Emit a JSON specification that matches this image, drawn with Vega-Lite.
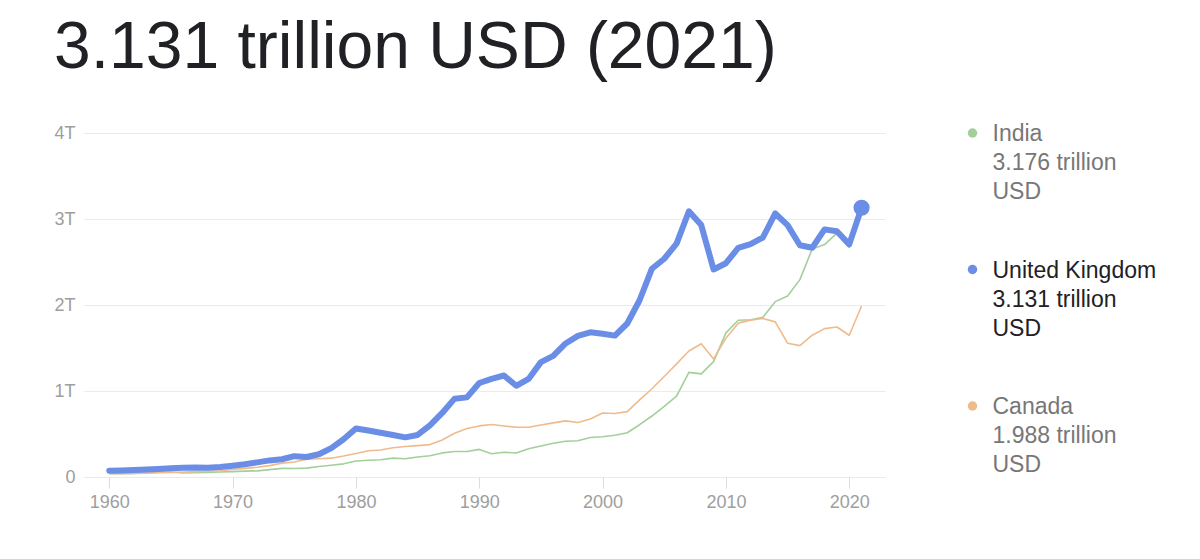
{
  "$schema": "https://vega.github.io/schema/vega-lite/v6.json",
  "padding": {"left": 53, "top": 15, "right": 5, "bottom": 5},
  "bounds": "flush",
  "spacing": 87,
  "title": {
    "text": "3.131 trillion USD (2021)",
    "anchor": "start",
    "frame": "bounds",
    "font": "Liberation Sans",
    "fontSize": 66,
    "fontWeight": "normal",
    "color": "#202124",
    "offset": 41
  },
  "config": {
    "view": {"stroke": null},
    "font": "Liberation Sans"
  },
  "datasets": {
    "gdp": [
      {"country": "United Kingdom", "year": 1960, "gdp": 0.073},
      {"country": "United Kingdom", "year": 1961, "gdp": 0.077},
      {"country": "United Kingdom", "year": 1962, "gdp": 0.081},
      {"country": "United Kingdom", "year": 1963, "gdp": 0.087},
      {"country": "United Kingdom", "year": 1964, "gdp": 0.094},
      {"country": "United Kingdom", "year": 1965, "gdp": 0.102},
      {"country": "United Kingdom", "year": 1966, "gdp": 0.108},
      {"country": "United Kingdom", "year": 1967, "gdp": 0.111},
      {"country": "United Kingdom", "year": 1968, "gdp": 0.107},
      {"country": "United Kingdom", "year": 1969, "gdp": 0.117},
      {"country": "United Kingdom", "year": 1970, "gdp": 0.131},
      {"country": "United Kingdom", "year": 1971, "gdp": 0.148},
      {"country": "United Kingdom", "year": 1972, "gdp": 0.170},
      {"country": "United Kingdom", "year": 1973, "gdp": 0.193},
      {"country": "United Kingdom", "year": 1974, "gdp": 0.206},
      {"country": "United Kingdom", "year": 1975, "gdp": 0.242},
      {"country": "United Kingdom", "year": 1976, "gdp": 0.232},
      {"country": "United Kingdom", "year": 1977, "gdp": 0.264},
      {"country": "United Kingdom", "year": 1978, "gdp": 0.336},
      {"country": "United Kingdom", "year": 1979, "gdp": 0.439},
      {"country": "United Kingdom", "year": 1980, "gdp": 0.564},
      {"country": "United Kingdom", "year": 1981, "gdp": 0.540},
      {"country": "United Kingdom", "year": 1982, "gdp": 0.515},
      {"country": "United Kingdom", "year": 1983, "gdp": 0.489},
      {"country": "United Kingdom", "year": 1984, "gdp": 0.461},
      {"country": "United Kingdom", "year": 1985, "gdp": 0.489},
      {"country": "United Kingdom", "year": 1986, "gdp": 0.601},
      {"country": "United Kingdom", "year": 1987, "gdp": 0.745},
      {"country": "United Kingdom", "year": 1988, "gdp": 0.911},
      {"country": "United Kingdom", "year": 1989, "gdp": 0.926},
      {"country": "United Kingdom", "year": 1990, "gdp": 1.093},
      {"country": "United Kingdom", "year": 1991, "gdp": 1.142},
      {"country": "United Kingdom", "year": 1992, "gdp": 1.180},
      {"country": "United Kingdom", "year": 1993, "gdp": 1.061},
      {"country": "United Kingdom", "year": 1994, "gdp": 1.140},
      {"country": "United Kingdom", "year": 1995, "gdp": 1.336},
      {"country": "United Kingdom", "year": 1996, "gdp": 1.409},
      {"country": "United Kingdom", "year": 1997, "gdp": 1.553},
      {"country": "United Kingdom", "year": 1998, "gdp": 1.641},
      {"country": "United Kingdom", "year": 1999, "gdp": 1.683},
      {"country": "United Kingdom", "year": 2000, "gdp": 1.666},
      {"country": "United Kingdom", "year": 2001, "gdp": 1.644},
      {"country": "United Kingdom", "year": 2002, "gdp": 1.785},
      {"country": "United Kingdom", "year": 2003, "gdp": 2.055},
      {"country": "United Kingdom", "year": 2004, "gdp": 2.422},
      {"country": "United Kingdom", "year": 2005, "gdp": 2.538},
      {"country": "United Kingdom", "year": 2006, "gdp": 2.713},
      {"country": "United Kingdom", "year": 2007, "gdp": 3.090},
      {"country": "United Kingdom", "year": 2008, "gdp": 2.929},
      {"country": "United Kingdom", "year": 2009, "gdp": 2.413},
      {"country": "United Kingdom", "year": 2010, "gdp": 2.486},
      {"country": "United Kingdom", "year": 2011, "gdp": 2.664},
      {"country": "United Kingdom", "year": 2012, "gdp": 2.708},
      {"country": "United Kingdom", "year": 2013, "gdp": 2.785},
      {"country": "United Kingdom", "year": 2014, "gdp": 3.064},
      {"country": "United Kingdom", "year": 2015, "gdp": 2.928},
      {"country": "United Kingdom", "year": 2016, "gdp": 2.695},
      {"country": "United Kingdom", "year": 2017, "gdp": 2.666},
      {"country": "United Kingdom", "year": 2018, "gdp": 2.879},
      {"country": "United Kingdom", "year": 2019, "gdp": 2.858},
      {"country": "United Kingdom", "year": 2020, "gdp": 2.705},
      {"country": "United Kingdom", "year": 2021, "gdp": 3.131},
      {"country": "India", "year": 1960, "gdp": 0.037},
      {"country": "India", "year": 1961, "gdp": 0.039},
      {"country": "India", "year": 1962, "gdp": 0.042},
      {"country": "India", "year": 1963, "gdp": 0.048},
      {"country": "India", "year": 1964, "gdp": 0.056},
      {"country": "India", "year": 1965, "gdp": 0.059},
      {"country": "India", "year": 1966, "gdp": 0.046},
      {"country": "India", "year": 1967, "gdp": 0.050},
      {"country": "India", "year": 1968, "gdp": 0.053},
      {"country": "India", "year": 1969, "gdp": 0.058},
      {"country": "India", "year": 1970, "gdp": 0.062},
      {"country": "India", "year": 1971, "gdp": 0.068},
      {"country": "India", "year": 1972, "gdp": 0.071},
      {"country": "India", "year": 1973, "gdp": 0.086},
      {"country": "India", "year": 1974, "gdp": 0.100},
      {"country": "India", "year": 1975, "gdp": 0.099},
      {"country": "India", "year": 1976, "gdp": 0.103},
      {"country": "India", "year": 1977, "gdp": 0.122},
      {"country": "India", "year": 1978, "gdp": 0.137},
      {"country": "India", "year": 1979, "gdp": 0.153},
      {"country": "India", "year": 1980, "gdp": 0.186},
      {"country": "India", "year": 1981, "gdp": 0.194},
      {"country": "India", "year": 1982, "gdp": 0.201},
      {"country": "India", "year": 1983, "gdp": 0.219},
      {"country": "India", "year": 1984, "gdp": 0.212},
      {"country": "India", "year": 1985, "gdp": 0.233},
      {"country": "India", "year": 1986, "gdp": 0.248},
      {"country": "India", "year": 1987, "gdp": 0.280},
      {"country": "India", "year": 1988, "gdp": 0.296},
      {"country": "India", "year": 1989, "gdp": 0.296},
      {"country": "India", "year": 1990, "gdp": 0.321},
      {"country": "India", "year": 1991, "gdp": 0.271},
      {"country": "India", "year": 1992, "gdp": 0.288},
      {"country": "India", "year": 1993, "gdp": 0.279},
      {"country": "India", "year": 1994, "gdp": 0.328},
      {"country": "India", "year": 1995, "gdp": 0.360},
      {"country": "India", "year": 1996, "gdp": 0.393},
      {"country": "India", "year": 1997, "gdp": 0.416},
      {"country": "India", "year": 1998, "gdp": 0.421},
      {"country": "India", "year": 1999, "gdp": 0.459},
      {"country": "India", "year": 2000, "gdp": 0.468},
      {"country": "India", "year": 2001, "gdp": 0.485},
      {"country": "India", "year": 2002, "gdp": 0.515},
      {"country": "India", "year": 2003, "gdp": 0.608},
      {"country": "India", "year": 2004, "gdp": 0.709},
      {"country": "India", "year": 2005, "gdp": 0.820},
      {"country": "India", "year": 2006, "gdp": 0.940},
      {"country": "India", "year": 2007, "gdp": 1.217},
      {"country": "India", "year": 2008, "gdp": 1.199},
      {"country": "India", "year": 2009, "gdp": 1.342},
      {"country": "India", "year": 2010, "gdp": 1.676},
      {"country": "India", "year": 2011, "gdp": 1.823},
      {"country": "India", "year": 2012, "gdp": 1.828},
      {"country": "India", "year": 2013, "gdp": 1.857},
      {"country": "India", "year": 2014, "gdp": 2.039},
      {"country": "India", "year": 2015, "gdp": 2.104},
      {"country": "India", "year": 2016, "gdp": 2.295},
      {"country": "India", "year": 2017, "gdp": 2.652},
      {"country": "India", "year": 2018, "gdp": 2.703},
      {"country": "India", "year": 2019, "gdp": 2.836},
      {"country": "India", "year": 2020, "gdp": 2.672},
      {"country": "India", "year": 2021, "gdp": 3.176},
      {"country": "Canada", "year": 1960, "gdp": 0.041},
      {"country": "Canada", "year": 1961, "gdp": 0.041},
      {"country": "Canada", "year": 1962, "gdp": 0.042},
      {"country": "Canada", "year": 1963, "gdp": 0.045},
      {"country": "Canada", "year": 1964, "gdp": 0.049},
      {"country": "Canada", "year": 1965, "gdp": 0.053},
      {"country": "Canada", "year": 1966, "gdp": 0.058},
      {"country": "Canada", "year": 1967, "gdp": 0.062},
      {"country": "Canada", "year": 1968, "gdp": 0.066},
      {"country": "Canada", "year": 1969, "gdp": 0.073},
      {"country": "Canada", "year": 1970, "gdp": 0.088},
      {"country": "Canada", "year": 1971, "gdp": 0.100},
      {"country": "Canada", "year": 1972, "gdp": 0.113},
      {"country": "Canada", "year": 1973, "gdp": 0.132},
      {"country": "Canada", "year": 1974, "gdp": 0.161},
      {"country": "Canada", "year": 1975, "gdp": 0.174},
      {"country": "Canada", "year": 1976, "gdp": 0.207},
      {"country": "Canada", "year": 1977, "gdp": 0.212},
      {"country": "Canada", "year": 1978, "gdp": 0.219},
      {"country": "Canada", "year": 1979, "gdp": 0.244},
      {"country": "Canada", "year": 1980, "gdp": 0.274},
      {"country": "Canada", "year": 1981, "gdp": 0.306},
      {"country": "Canada", "year": 1982, "gdp": 0.314},
      {"country": "Canada", "year": 1983, "gdp": 0.340},
      {"country": "Canada", "year": 1984, "gdp": 0.355},
      {"country": "Canada", "year": 1985, "gdp": 0.365},
      {"country": "Canada", "year": 1986, "gdp": 0.377},
      {"country": "Canada", "year": 1987, "gdp": 0.431},
      {"country": "Canada", "year": 1988, "gdp": 0.508},
      {"country": "Canada", "year": 1989, "gdp": 0.565},
      {"country": "Canada", "year": 1990, "gdp": 0.594},
      {"country": "Canada", "year": 1991, "gdp": 0.611},
      {"country": "Canada", "year": 1992, "gdp": 0.593},
      {"country": "Canada", "year": 1993, "gdp": 0.578},
      {"country": "Canada", "year": 1994, "gdp": 0.578},
      {"country": "Canada", "year": 1995, "gdp": 0.604},
      {"country": "Canada", "year": 1996, "gdp": 0.629},
      {"country": "Canada", "year": 1997, "gdp": 0.653},
      {"country": "Canada", "year": 1998, "gdp": 0.634},
      {"country": "Canada", "year": 1999, "gdp": 0.675},
      {"country": "Canada", "year": 2000, "gdp": 0.744},
      {"country": "Canada", "year": 2001, "gdp": 0.738},
      {"country": "Canada", "year": 2002, "gdp": 0.760},
      {"country": "Canada", "year": 2003, "gdp": 0.896},
      {"country": "Canada", "year": 2004, "gdp": 1.026},
      {"country": "Canada", "year": 2005, "gdp": 1.169},
      {"country": "Canada", "year": 2006, "gdp": 1.315},
      {"country": "Canada", "year": 2007, "gdp": 1.465},
      {"country": "Canada", "year": 2008, "gdp": 1.550},
      {"country": "Canada", "year": 2009, "gdp": 1.371},
      {"country": "Canada", "year": 2010, "gdp": 1.614},
      {"country": "Canada", "year": 2011, "gdp": 1.789},
      {"country": "Canada", "year": 2012, "gdp": 1.824},
      {"country": "Canada", "year": 2013, "gdp": 1.843},
      {"country": "Canada", "year": 2014, "gdp": 1.804},
      {"country": "Canada", "year": 2015, "gdp": 1.556},
      {"country": "Canada", "year": 2016, "gdp": 1.528},
      {"country": "Canada", "year": 2017, "gdp": 1.649},
      {"country": "Canada", "year": 2018, "gdp": 1.725},
      {"country": "Canada", "year": 2019, "gdp": 1.744},
      {"country": "Canada", "year": 2020, "gdp": 1.648},
      {"country": "Canada", "year": 2021, "gdp": 1.988}
    ],
    "legend": [
      {"country": "India", "label": "India\n3.176 trillion\nUSD"},
      {"country": "United Kingdom", "label": "United Kingdom\n3.131 trillion\nUSD"},
      {"country": "Canada", "label": "Canada\n1.988 trillion\nUSD"}
    ]
  },
  "hconcat": [
    {
      "width": 802,
      "height": 344,
      "data": {"name": "gdp"},
      "encoding": {
        "x": {
          "field": "year",
          "type": "quantitative",
          "scale": {"domain": [1957.87, 2022.9], "nice": false, "zero": false},
          "axis": {
            "title": null,
            "values": [1960, 1970, 1980, 1990, 2000, 2010, 2020],
            "format": "d",
            "grid": false,
            "domain": false,
            "tickColor": "#dddddd",
            "tickSize": 11,
            "labelPadding": 5,
            "labelFontSize": 18,
            "labelColor": "#9e9e9e"
          }
        },
        "y": {
          "field": "gdp",
          "type": "quantitative",
          "scale": {"domain": [0, 4], "nice": false},
          "axis": {
            "title": null,
            "values": [0, 1, 2, 3, 4],
            "labelExpr": "datum.value == 0 ? '0' : datum.value + 'T'",
            "grid": true,
            "gridColor": "#ebebeb",
            "gridWidth": 1.2,
            "domain": false,
            "ticks": false,
            "labelPadding": 8,
            "labelFontSize": 18,
            "labelColor": "#9e9e9e"
          }
        },
        "color": {
          "field": "country",
          "type": "nominal",
          "scale": {
            "domain": ["India", "United Kingdom", "Canada"],
            "range": ["#a3cf9b", "#6a8de6", "#efbb8d"]
          },
          "legend": null
        }
      },
      "layer": [
        {
          "transform": [{"filter": "datum.country != 'United Kingdom'"}],
          "mark": {"type": "line", "strokeWidth": 1.6, "strokeJoin": "round"}
        },
        {
          "transform": [{"filter": "datum.country == 'United Kingdom'"}],
          "mark": {"type": "line", "strokeWidth": 6, "strokeJoin": "round", "strokeCap": "round"}
        },
        {
          "transform": [{"filter": "datum.country == 'United Kingdom' && datum.year == 2021"}],
          "mark": {"type": "point", "filled": true, "opacity": 1, "size": 260}
        }
      ]
    },
    {
      "width": 1,
      "height": 273,
      "data": {"name": "legend"},
      "encoding": {
        "y": {
          "field": "country",
          "type": "nominal",
          "sort": ["India", "United Kingdom", "Canada"],
          "scale": {"type": "point", "padding": 0},
          "axis": null
        }
      },
      "layer": [
        {
          "mark": {"type": "point", "filled": true, "opacity": 1, "size": 90},
          "encoding": {
            "color": {
              "field": "country",
              "type": "nominal",
              "scale": {
                "domain": ["India", "United Kingdom", "Canada"],
                "range": ["#a3cf9b", "#6a8de6", "#efbb8d"]
              },
              "legend": null
            }
          }
        },
        {
          "mark": {
            "type": "text",
            "align": "left",
            "baseline": "alphabetic",
            "dx": 20,
            "dy": 8,
            "lineBreak": "\n",
            "lineHeight": 29,
            "fontSize": 23
          },
          "encoding": {
            "text": {"field": "label"},
            "color": {
              "condition": {"test": "datum.country == 'United Kingdom'", "value": "#202124"},
              "value": "#777777"
            }
          }
        }
      ]
    }
  ]
}
